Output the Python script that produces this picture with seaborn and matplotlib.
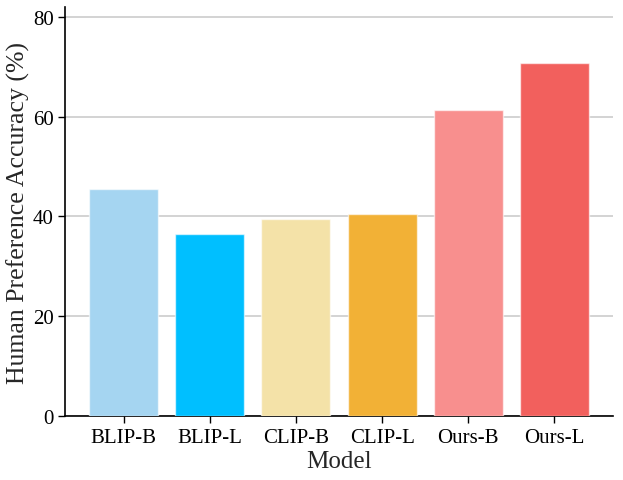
import matplotlib
matplotlib.use("Agg")
import matplotlib.pyplot as plt
import seaborn as sns
import pandas as pd

models = ["BLIP-B", "BLIP-L", "CLIP-B", "CLIP-L", "Ours-B", "Ours-L"]
accuracy = [45.6, 36.5, 39.5, 40.5, 61.4, 70.7]
colors = ["#A5D5F1", "#00BFFF", "#F4E2A8", "#F2B136", "#F88F8E", "#F2605D"]
yticks = [0, 20, 40, 60, 80]

sns.set_style("ticks")
plt.rcParams["font.family"] = ["Liberation Serif", "DejaVu Serif"]

df = pd.DataFrame({"Model": models, "Accuracy": accuracy})

fig = plt.figure(figsize=(6.23, 4.81), dpi=100)
ax = fig.add_axes([65 / 623, 1 - 417 / 481, 548 / 623, 409 / 481])

sns.barplot(data=df, x="Model", y="Accuracy", hue="Model", palette=colors,
            legend=False, width=0.8, saturation=1, ax=ax,
            edgecolor=(1, 1, 1, 0.6), linewidth=1.0, zorder=3)

ax.yaxis.grid(True, color="#C8C8C8", linewidth=1.1, zorder=0)
ax.set_axisbelow(True)
ax.set_xlim(-0.68, 5.68)
ax.set_ylim(0, 82)
ax.set_yticks(yticks)
ax.tick_params(axis="both", labelsize=15, length=5, width=1.0, colors="black")
ax.tick_params(axis="y", pad=3)
ax.set_xlabel("Model", fontsize=18, labelpad=2)
ax.set_ylabel("Human Preference Accuracy (%)", fontsize=18.5, labelpad=2)
sns.despine(ax=ax)
for side in ["left", "bottom"]:
    ax.spines[side].set_linewidth(1.2)
    ax.spines[side].set_color("black")

fig.savefig("out.png", dpi=100)
